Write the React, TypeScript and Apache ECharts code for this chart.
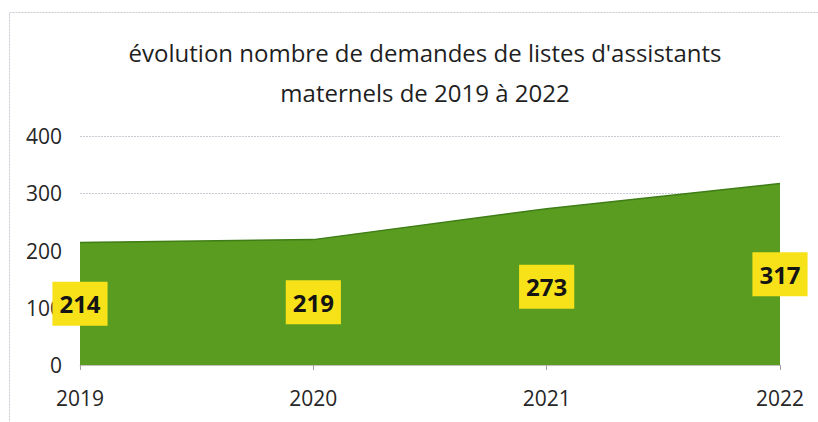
import React, { useEffect, useRef } from "react";
import * as echarts from "echarts";

const years = ["2019", "2020", "2021", "2022"];
const requests = [214, 219, 273, 317];
const yTicks = { min: 0, max: 400, interval: 100 };
const titleLines = [
  "évolution nombre de demandes de listes d'assistants",
  "maternels de 2019 à 2022",
];

export default function App() {
  const ref = useRef<HTMLDivElement>(null);
  useEffect(() => {
    if (!ref.current) return;
    const chart = echarts.init(ref.current, undefined, { renderer: "svg" });
    const font = "'Open Sans', 'Noto Sans', sans-serif";
    chart.setOption({
      animation: false,
      backgroundColor: "#ffffff",
      title: {
        text: titleLines.join("\n"),
        left: 420,
        top: 27,
        textAlign: "center",
        textStyle: {
          fontFamily: font,
          fontSize: 24,
          fontWeight: "normal",
          color: "#1f1f1f",
          lineHeight: 40,
        },
      },
      graphic: [
        {
          type: "rect",
          shape: { x: 9.5, y: 12.5, width: 830, height: 430 },
          style: { fill: "none", stroke: "#c4c8d0", lineWidth: 1, lineDash: [2, 1] },
          silent: true,
          z: -1,
        },
      ],
      grid: { left: 80, right: 38, top: 136, bottom: 57 },
      xAxis: {
        type: "category",
        data: years,
        boundaryGap: false,
        axisLine: { show: true, lineStyle: { color: "#c0c0c0", width: 1 } },
        axisTick: { show: true, length: 5, lineStyle: { color: "#a0a0a0" } },
        axisLabel: {
          fontFamily: font,
          fontSize: 21,
          color: "#262626",
          margin: 22,
        },
        splitLine: { show: false },
      },
      yAxis: {
        type: "value",
        min: yTicks.min,
        max: yTicks.max,
        interval: yTicks.interval,
        axisLine: { show: false },
        axisTick: { show: false },
        axisLabel: {
          fontFamily: font,
          fontSize: 21,
          color: "#262626",
          margin: 18,
        },
        splitLine: { show: true, lineStyle: { color: "#c8ccd2", type: [2, 1], width: 1 } },
      },
      series: [
        {
          type: "line",
          data: requests,
          symbol: "none",
          lineStyle: { color: "#3f7d16", width: 1.5 },
          areaStyle: { color: "#5a9c20", opacity: 1 },
          z: 2,
        },
        {
          type: "scatter",
          data: requests.map((v) => v / 2),
          symbolSize: 0,
          itemStyle: { opacity: 1 },
          z: 5,
          label: {
            show: true,
            position: "inside",
            opacity: 1,
            formatter: (p: any) => String(requests[p.dataIndex]),
            fontFamily: font,
            fontSize: 24,
            fontWeight: "bold",
            color: "#141414",
            backgroundColor: "#f7e21a",
            padding: [8, 7, 7, 7],
            lineHeight: 29,
          },
        },
      ],
    });
    return () => chart.dispose();
  }, []);
  return (
    <div
      ref={ref}
      style={{ position: "absolute", left: 0, top: 0, width: 818, height: 422 }}
    />
  );
}
